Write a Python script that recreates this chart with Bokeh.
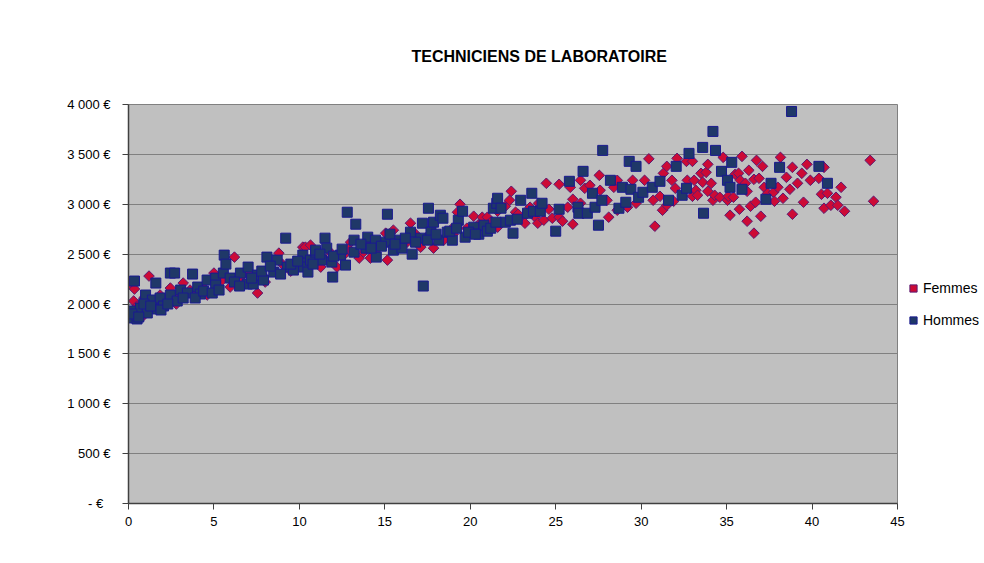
import math
from bokeh.plotting import figure
from bokeh.models import Range1d, FixedTicker, Legend, LegendItem
from bokeh.embed import file_html
from bokeh.resources import INLINE

TITLE = "TECHNICIENS DE LABORATOIRE"
SERIES = ["Femmes", "Hommes"]

X_TICKS = [0, 5, 10, 15, 20, 25, 30, 35, 40, 45]
Y_TICKS = [0, 500, 1000, 1500, 2000, 2500, 3000, 3500, 4000]
Y_LABELS = ["-   €", "500 €", "1 000 €", "1 500 €", "2 000 €", "2 500 €", "3 000 €", "3 500 €", "4 000 €"]

# Femmes (years of seniority, monthly salary)
femmes_x = [0.1, 0.35, 0.3, 0.8, 0.9, 0.5, 1.2, 1.45, 1.85, 2.45, 2.2, 3.2, 3.6, 3.0, 4.35, 4.0,
            5.0, 5.95, 5.5, 6.2, 6.5, 7.55, 7.0, 8.0, 8.8, 8.4, 9.0, 9.5, 10.2, 10.35, 10.65, 10.8,
            11.25, 11.8, 12.2, 12.6, 13.0, 13.5, 13.75, 14.15, 14.6, 15.05, 15.15, 15.5, 16.0, 16.3,
            16.5, 17.1, 17.5, 17.85, 18.45, 18.9, 19.25, 19.4, 19.8, 20.2, 20.5, 20.7, 21.0, 21.6,
            21.6, 22.05, 22.3, 22.4, 22.65, 23.1, 23.2, 23.5, 23.8, 23.95, 24.0, 24.3, 24.45, 24.6,
            24.8, 25.2, 25.2, 25.4, 25.7, 25.85, 26.0, 26.0, 26.45, 26.45, 26.7, 27.0, 27.55, 27.6,
            28.0, 28.1, 28.4, 28.6, 28.6, 29.2, 29.5, 29.7, 30.2, 30.45, 30.7, 30.8, 31.1, 31.25,
            31.3, 31.5, 31.5, 31.8, 31.9, 32.0, 32.1, 32.65, 32.7, 33.0, 33.0, 33.1, 33.2, 33.3,
            33.5, 33.6, 33.8, 33.9, 33.9, 34.1, 34.2, 34.3, 34.6, 34.8, 35.05, 35.1, 35.2, 35.4,
            35.5, 35.7, 35.75, 35.8, 35.9, 36.1, 36.2, 36.2, 36.3, 36.4, 36.6, 36.6, 36.7, 36.75,
            36.9, 37.0, 37.1, 37.2, 37.4, 37.75, 37.8, 38.0, 38.15, 38.3, 38.5, 38.7, 38.85, 38.85,
            39.15, 39.4, 39.5, 39.7, 39.9, 40.4, 40.55, 40.7, 40.7, 40.9, 41.1, 41.4, 41.5, 41.7,
            41.9, 43.4, 43.6,
            1.0, 2.8, 4.6, 6.8, 7.8, 9.8, 11.5, 12.9, 14.0, 15.8, 16.8, 18.0, 19.0, 20.0, 21.2, 22.8]
femmes_y = [2200, 2150, 2030, 1870, 2060, 1980, 2280, 1960, 2090, 2160, 2040, 2210, 2140, 2080, 2170, 2100,
            2310, 2170, 2240, 2470, 2250, 2110, 2300, 2220, 2510, 2350, 2400, 2330, 2570, 2570, 2590, 2450,
            2370, 2520, 2370, 2490, 2620, 2460, 2520, 2460, 2560, 2710, 2440, 2740, 2630, 2620,
            2810, 2570, 2680, 2560, 2640, 2750, 2920, 3000, 2760, 2880, 2800, 2870, 2870, 2770,
            2930, 2980, 3040, 3130, 2920, 2870, 2810, 2970, 2870, 2810, 3010, 2840, 3210, 2950,
            2860, 2870, 3200, 2830, 2970, 3170, 3050, 2800, 3240, 3010, 3160, 3190, 3290, 3140,
            3040, 2870, 3170, 3240, 2940, 2970, 3240, 3010, 3240, 3455, 3040, 2780, 3080, 2940,
            3310, 3380, 2990, 3240, 3030, 3160, 3460, 3430, 3240, 3430, 3080, 3240, 3140, 3090,
            3310, 3220, 3320, 3400, 3130, 3210, 3040, 3090, 3070, 3470, 3040, 3080, 2890, 3070,
            3300, 3310, 2950, 3240, 3480, 3210, 3130, 2830, 3340, 2980, 2710, 3250, 3020, 3440,
            3260, 2880, 3380, 3170, 3110, 3120, 3030, 3170, 3470, 3060, 3270, 3150, 2900, 3370,
            3210, 3310, 3020, 3400, 3240, 3260, 3100, 3370, 2960, 3110, 2990, 3070, 2990, 3170,
            2930, 3440, 3030,
            1950, 2000, 2090, 2200, 2300, 2380, 2450, 2550, 2580, 2590, 2700, 2680, 2700, 2720, 2820, 2900]

# Hommes
hommes_x = [0.1, 0.5, 0.3, 0.35, 0.7, 1.0, 1.1, 1.4, 1.6, 1.7, 1.85, 2.05, 2.45, 2.45, 2.7, 2.85,
            3.05, 3.45, 3.75, 4.05, 4.2, 4.6, 5.1, 5.1, 5.55, 5.6, 5.7, 5.95, 6.55, 6.95, 7.0, 7.3,
            7.55, 7.9, 8.1, 8.5, 8.7, 9.2, 9.3, 9.65, 10.2, 10.25, 10.25, 10.5, 10.65, 10.95, 10.95,
            11.3, 11.5, 11.6, 11.9, 11.95, 12.4, 12.7, 12.8, 13.2, 13.2, 13.3, 13.9, 14.0, 14.45,
            14.5, 15.05, 15.15, 15.3, 15.5, 15.9, 16.0, 16.5, 16.6, 17.1, 17.2, 17.25, 17.55, 17.7,
            17.85, 18.15, 18.25, 18.4, 18.65, 18.95, 19.3, 19.55, 19.7, 20.2, 20.5, 20.8, 21.0,
            21.2, 21.35, 21.55, 21.6, 21.8, 22.05, 22.35, 22.5, 22.75, 22.95, 23.35, 23.6, 23.7,
            24.1, 24.2, 25.0, 25.2, 25.8, 26.3, 26.35, 26.6, 26.85, 27.15, 27.3, 27.5, 27.7, 27.75,
            28.2, 28.7, 28.9, 29.1, 29.3, 29.4, 29.7, 29.85, 30.1, 30.65, 31.1, 31.6, 32.05, 32.4,
            32.65, 32.8, 33.6, 33.65, 34.2, 34.35, 34.7, 35.05, 35.2, 35.3, 35.9, 37.3, 37.6, 38.1,
            38.8, 40.4, 40.9,
            0.2, 0.6, 0.9, 1.3, 1.9, 2.3, 3.2, 3.9, 4.4, 4.9, 5.3, 6.2, 6.5, 7.2, 7.8, 8.3, 8.9, 9.5,
            9.9, 10.8, 11.2, 12.0, 12.5, 13.6, 14.2, 14.8, 15.6, 16.2, 16.8, 17.5, 18.0, 18.8, 19.2,
            19.9, 20.3, 21.5]
hommes_y = [1860, 1850, 1930, 2230, 1960, 2090, 1910, 2040, 2210, 1950, 2060, 1980, 2090, 2310, 2310, 2030,
            2140, 2110, 2300, 2170, 2100, 2240, 2260, 2190, 2310, 2490, 2400, 2260, 2310, 2200, 2370, 2200,
            2290, 2240, 2470, 2320, 2440, 2660, 2370, 2340, 2490, 2410, 2370, 2320, 2440, 2520, 2540,
            2440, 2660, 2560, 2420, 2270, 2490, 2390, 2920, 2640, 2520, 2800, 2560, 2670, 2640,
            2470, 2620, 2900, 2700, 2540, 2640, 2560, 2720, 2500, 2660, 2810, 2180, 2960, 2720,
            2820, 2640, 2890, 2860, 2720, 2640, 2840, 2930, 2670, 2770, 2700, 2790, 2730,
            2760, 2960, 3010, 3060, 2960, 2820, 2840, 2710, 2850, 3040, 2910, 3110, 2930,
            2930, 3010, 2730, 2950, 3230, 2970, 2910, 3330, 2910, 3110, 2970, 2790, 3040, 3540,
            3240, 2960, 3170, 3020, 3430, 3150, 3380, 3070, 3120, 3170, 3230, 3040, 3380, 3090,
            3160, 3510, 3570, 2910, 3730, 3540, 3330, 3240, 3170, 3420, 3150, 3050, 3210, 3370,
            3930, 3380, 3210,
            1900, 1870, 2000, 1980, 1940, 2000, 2060, 2060, 2130, 2110, 2140, 2220, 2180, 2260, 2330, 2380, 2300, 2400,
            2430, 2400, 2500, 2480, 2550, 2600, 2560, 2580, 2600, 2660, 2620, 2640, 2700, 2730, 2760,
            2720, 2700, 2820]

FONT = "Liberation Sans"

p = figure(frame_width=769, frame_height=399, output_backend="svg", toolbar_location=None,
           x_range=Range1d(0, 45), y_range=Range1d(0, 4000),
           min_border_left=128, min_border_right=87, min_border_top=104, min_border_bottom=58,
           title=TITLE)
p.background_fill_color = "#C0C0C0"
p.border_fill_color = "white"
p.outline_line_color = "#808080"
p.xgrid.visible = False
p.ygrid.grid_line_color = "#808080"
p.ygrid.grid_line_width = 1

p.title.align = "left"
p.title.offset = 283
p.title.standoff = 80
p.title.text_font = FONT
p.title.text_font_size = "16px"
p.title.text_font_style = "bold"
p.title.text_color = "black"

p.xaxis.ticker = FixedTicker(ticks=X_TICKS)
p.yaxis.ticker = FixedTicker(ticks=Y_TICKS)
p.yaxis.major_label_overrides = {t: l for t, l in zip(Y_TICKS, Y_LABELS)}
for ax in (p.xaxis[0], p.yaxis[0]):
    ax.axis_line_color = "#404040"
    ax.axis_line_width = 1.5
    ax.major_tick_line_color = "#404040"
    ax.major_tick_in = 0
    ax.major_tick_out = 6
    ax.minor_tick_line_color = None
    ax.major_label_text_font = FONT
    ax.major_label_text_font_size = "13px"
    ax.major_label_text_color = "black"
p.yaxis.major_label_standoff = 12
p.xaxis.major_label_standoff = 7

rf = p.scatter(femmes_x, femmes_y, marker="square", size=7.5, angle=math.pi / 4,
               fill_color="#CC0A36", line_color="#5B1A72", line_width=1)
rh = p.scatter(hommes_x, hommes_y, marker="square", size=10,
               fill_color="#1F3868", line_color="#1A1A90", line_width=1)

legend = Legend(items=[LegendItem(label=SERIES[0], renderers=[rf]),
                       LegendItem(label=SERIES[1], renderers=[rh])],
                location="center_left", orientation="vertical",
                glyph_width=18, glyph_height=18, label_height=20, spacing=12,
                padding=0, margin=7, label_standoff=1,
                border_line_color=None, background_fill_alpha=0,
                label_text_font=FONT, label_text_font_size="14px", label_text_color="black")
p.add_layout(legend, "right")

open("out.html", "w").write(file_html(p, INLINE))
